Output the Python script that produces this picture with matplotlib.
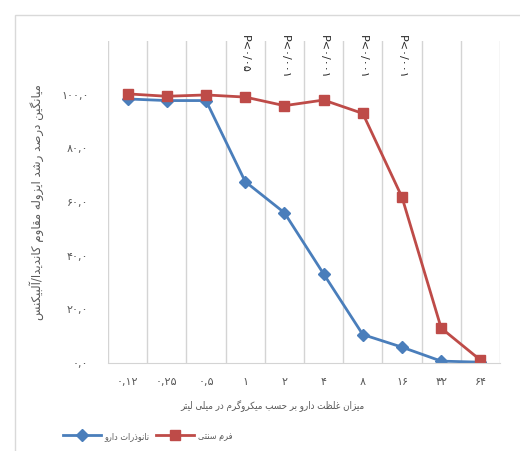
import matplotlib
matplotlib.use("Agg")
import matplotlib.pyplot as plt
from matplotlib.patches import Rectangle

# presentation forms: letter -> (isolated code, joins to the next letter)
FORMS = {'ا': (0xFE8D, False), 'آ': (0xFE81, False), 'ب': (0xFE8F, True), 'ت': (0xFE95, True),
         'ح': (0xFEA1, True), 'د': (0xFEA9, False), 'ذ': (0xFEAB, False), 'ر': (0xFEAD, False),
         'ز': (0xFEAF, False), 'س': (0xFEB1, True), 'ش': (0xFEB5, True), 'ص': (0xFEB9, True),
         'ظ': (0xFEC5, True), 'غ': (0xFECD, True), 'ف': (0xFED1, True), 'ق': (0xFED5, True),
         'ل': (0xFEDD, True), 'م': (0xFEE1, True), 'ن': (0xFEE5, True), 'ه': (0xFEE9, True),
         'و': (0xFEED, False), 'ی': (0xFBFC, True), 'ک': (0xFB8E, True), 'گ': (0xFB92, True)}


def fa(text):
    # crude shaping + right-to-left order, matplotlib does neither
    out = []
    for i, ch in enumerate(text):
        if ch not in FORMS:
            out.append(ch)
            continue
        prev = text[i - 1] if i > 0 else ''
        nxt = text[i + 1] if i + 1 < len(text) else ''
        jp = prev in FORMS and FORMS[prev][1]
        jn = FORMS[ch][1] and nxt in FORMS
        off = 3 if (jp and jn) else 1 if jp else 2 if jn else 0
        out.append(chr(FORMS[ch][0] + off))
    return ''.join(out)[::-1]


doses = ["۰,۱۲", "۰,۲۵", "۰,۵", "۱", "۲", "۴", "۸", "۱۶", "۳۲", "۶۴"]
nano = [98.4, 97.8, 97.8, 67.6, 56.0, 33.2, 10.6, 5.9, 0.7, 0.3]
sonati = [100.3, 99.4, 99.9, 99.1, 95.9, 98.0, 93.0, 61.8, 13.0, 1.1]
y_ticks = [0, 20, 40, 60, 80, 100]
y_labels = ["۰,۰", "۲۰,۰", "۴۰,۰", "۶۰,۰", "۸۰,۰", "۱۰۰,۰"]
p_pos = [3, 4, 5, 6, 7]
p_text = ["P<۰/۰۵", "P<۰/۰۰۱", "P<۰/۰۰۱", "P<۰/۰۰۱", "P<۰/۰۰۱"]

name_nano = "نانوذرات دارو"
name_sonati = "فرم سنتی"
xlab = "میزان غلظت دارو بر حسب میکروگرم در میلی لیتر"
ylab = "میانگین درصد رشد ایزوله مقاوم کاندیدا/آلبیکنس"

gray = "#595959"
fig = plt.figure(figsize=(5.2, 4.51), dpi=100)
fig.patches.append(Rectangle((15 / 520, -0.1), 1.2, 1 - 15 / 451 + 0.1, transform=fig.transFigure,
                             fill=False, edgecolor="#d9d9d9", linewidth=1))
ax = fig.add_axes([108 / 520, 1 - 363 / 451, 392 / 520, 322 / 451])

x = list(range(len(doses)))
ax.plot(x, nano, color="#4a7ebb", linewidth=2, marker="D", markersize=6, label=fa(name_nano))
ax.plot(x, sonati, color="#be4b48", linewidth=2, marker="s", markersize=7, label=fa(name_sonati))

ax.set_xlim(-0.5, len(doses) - 0.5)
ax.set_ylim(0, 120)
ax.set_xticks(x)
ax.set_xticklabels(doses)
ax.set_xticks([i - 0.5 for i in range(len(doses) + 1)], minor=True)
ax.set_yticks(y_ticks)
ax.set_yticklabels(y_labels)
ax.grid(True, which="minor", axis="x", color="#d4d4d4", linewidth=1)
ax.tick_params(which="both", length=0, colors=gray, labelsize=8, pad=10)
ax.tick_params(axis="y", pad=14)
for s in ["top", "right", "left"]:
    ax.spines[s].set_visible(False)
ax.spines["bottom"].set_color("#d4d4d4")

for px, t in zip(p_pos, p_text):
    ax.text(px, 1.02, t, transform=ax.get_xaxis_transform(), rotation=-90, ha="center", va="top",
            fontsize=8, color="#262626", clip_on=False)

ax.set_xlabel(fa(xlab), fontsize=7, fontstretch="condensed", color=gray, labelpad=9)
ax.xaxis.set_label_coords(0.42, -0.115)
ax.set_ylabel(fa(ylab), fontsize=8.5, color=gray, labelpad=12)

fig.legend(loc="center left", bbox_to_anchor=(0.105, 0.033), ncol=2, frameon=False,
           prop={"size": 6.5, "stretch": "condensed"}, handlelength=4.2, handletextpad=0.4,
           columnspacing=0.8, labelcolor=gray)

fig.savefig("out.png", dpi=100)
